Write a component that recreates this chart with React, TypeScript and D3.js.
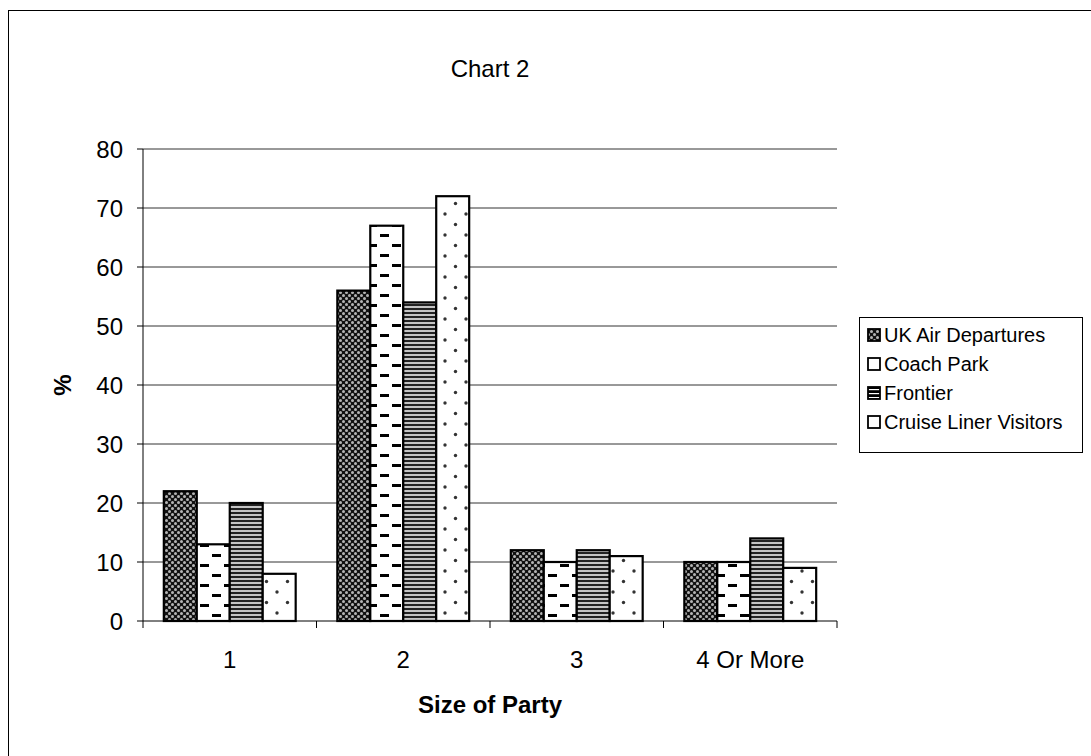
import React from "react";
import * as d3 from "d3";

const categories = ["1", "2", "3", "4 Or More"];
const seriesNames = ["UK Air Departures", "Coach Park", "Frontier", "Cruise Liner Visitors"];
const ukAir = [22, 56, 12, 10];
const coachPark = [13, 67, 10, 10];
const frontier = [20, 54, 12, 14];
const cruise = [8, 72, 11, 9];
const yTicks = [0, 10, 20, 30, 40, 50, 60, 70, 80];

const seriesValues = [ukAir, coachPark, frontier, cruise];
const patternIds = ["pUK", "pCoach", "pFront", "pCruise"];
const legendFills = ["url(#pUK)", "#fff", "url(#pFrontL)", "#fff"];

export default function App() {
  const W = 1091, H = 756;
  const left = 143, right = 837, top = 149, bottom = 621;
  const x0 = d3.scaleBand().domain(categories).range([left, right]).paddingInner(0.24).paddingOuter(0.12);
  const x1 = d3.scaleBand().domain(seriesNames).range([0, x0.bandwidth()]);
  const y = d3.scaleLinear().domain([0, 80]).range([bottom, top]);
  const font = "Arial, 'Liberation Sans', sans-serif";
  const step = (right - left) / categories.length;

  return (
    <svg width={W} height={H} style={{ position: "absolute", left: 0, top: 0 }} fontFamily={font}>
      <defs>
        <pattern id="pUK" width={6} height={6} patternUnits="userSpaceOnUse">
          <rect width={6} height={6} fill="#111" />
          <circle cx={1.5} cy={1.5} r={1.5} fill="#b5b5b5" />
          <circle cx={4.5} cy={4.5} r={1.5} fill="#b5b5b5" />
        </pattern>
        <pattern id="pCoach" width={24} height={20} patternUnits="userSpaceOnUse">
          <rect width={24} height={20} fill="#fff" />
          <rect x={8} y={4} width={9} height={3} fill="#000" />
          <rect x={20} y={14} width={9} height={3} fill="#000" />
          <rect x={-4} y={14} width={9} height={3} fill="#000" />
        </pattern>
        <pattern id="pFront" width={4} height={4} patternUnits="userSpaceOnUse">
          <rect width={4} height={4} fill="#c4c4c4" />
          <rect y={0} width={4} height={2} fill="#222" />
        </pattern>
        <pattern id="pFrontL" width={4} height={4} patternUnits="userSpaceOnUse" y={1}>
          <rect width={4} height={4} fill="#000" />
          <rect y={0} width={4} height={1.2} fill="#fff" />
        </pattern>
        <pattern id="pCruise" width={21} height={21} patternUnits="userSpaceOnUse">
          <rect width={21} height={21} fill="#fff" />
          <circle cx={4} cy={4} r={1.7} fill="#333" />
          <circle cx={14.5} cy={14.5} r={1.7} fill="#333" />
        </pattern>
      </defs>
      <rect x={0} y={0} width={W} height={H} fill="#fff" />
      <rect x={8.5} y={10.5} width={1200} height={900} fill="none" stroke="#000" strokeWidth={1} />

      <text x={490} y={77} textAnchor="middle" fontSize={24}>Chart 2</text>

      {yTicks.map((t) => (
        <g key={t}>
          {t > 0 && <line x1={left} x2={right} y1={y(t)} y2={y(t)} stroke="#333" strokeWidth={1} />}
          <line x1={left - 6} x2={left} y1={y(t)} y2={y(t)} stroke="#000" />
          <text x={left - 20} y={y(t) + 8.5} textAnchor="end" fontSize={24}>{t}</text>
        </g>
      ))}

      {categories.map((c, ci) => (
        <g key={c}>
          {seriesNames.map((s, si) => {
            const v = seriesValues[si][ci];
            const bx = (x0(c) as number) + (x1(s) as number);
            return (
              <rect key={s} x={bx} y={y(v)} width={x1.bandwidth()} height={y(0) - y(v)}
                fill={`url(#${patternIds[si]})`} stroke="#000" strokeWidth={2.2} />
            );
          })}
          <text x={(x0(c) as number) + x0.bandwidth() / 2} y={668} textAnchor="middle" fontSize={24}>{c}</text>
        </g>
      ))}

      <line x1={left} x2={left} y1={top} y2={bottom} stroke="#000" />
      <line x1={left} x2={right} y1={bottom} y2={bottom} stroke="#000" />
      {d3.range(categories.length + 1).map((i) => (
        <line key={i} x1={left + i * step} x2={left + i * step} y1={bottom} y2={bottom + 7} stroke="#000" />
      ))}

      <text x={490} y={713} textAnchor="middle" fontSize={24} fontWeight="bold">Size of Party</text>
      <text transform={`translate(71,385) rotate(-90)`} textAnchor="middle" fontSize={24} fontWeight="bold">%</text>

      <rect x={859.5} y={317.5} width={223} height={135} fill="#fff" stroke="#000" />
      {seriesNames.map((s, i) => {
        const ly = 335 + i * 29;
        return (
          <g key={s}>
            <rect x={868} y={ly - 6} width={12} height={12} fill={legendFills[i]} stroke="#000" strokeWidth={1.8} />
            <text x={884} y={ly + 7} fontSize={20}>{s}</text>
          </g>
        );
      })}
    </svg>
  );
}
